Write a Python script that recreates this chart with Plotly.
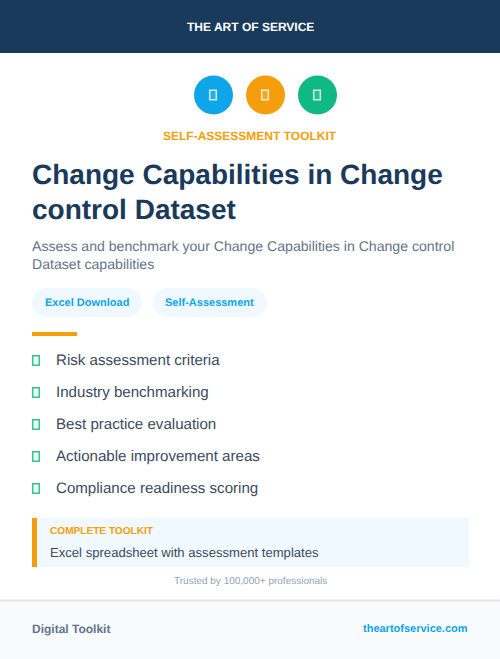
import plotly.graph_objects as go

NAVY = '#1a3a5c'
AMBER = '#f59e0b'
SKY = '#0ea5e9'
GREEN = '#10b981'
PALE = '#f0f9ff'
FONT = 'Liberation Sans'

brand = 'THE ART OF SERVICE'
kicker = 'SELF-ASSESSMENT TOOLKIT'
title_lines = ['Change Capabilities in Change', 'control Dataset']
subtitle_lines = ['Assess and benchmark your Change Capabilities in Change control', 'Dataset capabilities']
tags = ['Excel Download', 'Self-Assessment']
features = ['Risk assessment criteria', 'Industry benchmarking', 'Best practice evaluation',
            'Actionable improvement areas', 'Compliance readiness scoring']
callout_head = 'COMPLETE TOOLKIT'
callout_text = 'Excel spreadsheet with assessment templates'
trusted = 'Trusted by 100,000+ professionals'
footer_left = 'Digital Toolkit'
footer_right = 'theartofservice.com'
icon_colors = [SKY, AMBER, GREEN]

fig = go.Figure()


def rect(x0, y0, x1, y1, fill, line=None, width=0):
    fig.add_shape(type='rect', x0=x0, y0=y0, x1=x1, y1=y1, fillcolor=fill,
                  line=dict(color=line, width=width) if line else dict(width=0))


def pill(x0, y0, x1, y1, fill):
    # rounded ends as cubics, plotly shape paths do not scale arcs
    r = (y1 - y0) / 2
    k = r * 0.5523
    fig.add_shape(type='path', fillcolor=fill, line=dict(width=0),
                  path=f'M {x0+r} {y0} L {x1-r} {y0} '
                       f'C {x1-r+k} {y0} {x1} {y0+r-k} {x1} {y0+r} '
                       f'C {x1} {y0+r+k} {x1-r+k} {y1} {x1-r} {y1} '
                       f'L {x0+r} {y1} '
                       f'C {x0+r-k} {y1} {x0} {y0+r+k} {x0} {y0+r} '
                       f'C {x0} {y0+r-k} {x0+r-k} {y0} {x0+r} {y0} Z')


def label(x, y, text, size, color, anchor='left', bold=False):
    # annotations pad their text by 2px, cancel it out
    shift = {'left': -2, 'right': 2, 'center': 0}[anchor]
    fig.add_annotation(x=x, y=y, text=f'<b>{text}</b>' if bold else text, showarrow=False,
                       xanchor=anchor, yanchor='middle', xshift=shift,
                       font=dict(family=FONT, size=size, color=color))


# header and footer bands
rect(0, 0, 500, 53, NAVY)
rect(0, 600, 500, 659, '#f8fafc')
rect(0, 599.5, 500, 601.5, '#e2e8f0')
label(250, 26.5, brand, 12, '#ffffff', 'center', True)

# three icon discs, the glyphs are empty boxes in the original
for cx, col in zip([213.5, 265.5, 317.5], icon_colors):
    fig.add_shape(type='circle', x0=cx-19.5, y0=75.5, x1=cx+19.5, y1=114.5, fillcolor=col, line=dict(width=0))
    rect(cx-3.8, 90.2, cx+2.8, 99.8, 'rgba(255,255,255,0.1)', 'rgba(255,255,255,0.8)', 1.5)

label(249.5, 135.5, kicker, 12, AMBER, 'center', True)

for y, line in zip([174, 209], title_lines):
    label(32, y, line, 28, NAVY, bold=True)
for y, line in zip([246, 263.5], subtitle_lines):
    label(32, y, line, 14.1, '#64748b')

# tag pills
for x0, x1, tag, size in zip([32, 153], [142, 267], tags, [11, 11]):
    pill(x0, 288, x1, 317, PALE)
    label((x0 + x1) / 2 - 0.5, 301.5, tag, size, SKY, 'center', True)

rect(32, 332, 77, 336, AMBER)

# feature list
for i, item in enumerate(features):
    y = 360 + i * 32
    rect(32.7, y-4.3, 39.3, y+5.3, 'rgba(16,185,129,0.08)', 'rgba(16,185,129,0.85)', 1.5)
    label(56, y-0.7, item, 15.1, '#3b4a60')

# callout
rect(32, 518, 469, 567, PALE)
rect(32, 518, 37, 567, AMBER)
label(50, 530.5, callout_head, 10.1, AMBER, bold=True)
label(50, 552.5, callout_text, 13.1, '#3b4a60')

label(250, 580.5, trusted, 10, '#94a3b8', 'center')
label(32, 628.5, footer_left, 12, '#64748b', bold=True)
label(468, 628, footer_right, 11, SKY, 'right', True)

fig.update_layout(
    width=500, height=659, margin=dict(l=0, r=0, t=0, b=0),
    paper_bgcolor='#ffffff', plot_bgcolor='#ffffff', showlegend=False,
    xaxis=dict(range=[0, 500], visible=False, fixedrange=True),
    yaxis=dict(range=[659, 0], visible=False, fixedrange=True),
)

# page margin would push the card off by 8px
page_fix = ("document.body.style.margin='0';document.documentElement.style.overflow='hidden';"
            "var s=document.createElement('style');"
            "s.textContent='svg text{text-rendering:geometricPrecision !important}';"
            "document.head.appendChild(s);")
fig.write_html('out.html', config={'displayModeBar': False}, post_script=page_fix)
